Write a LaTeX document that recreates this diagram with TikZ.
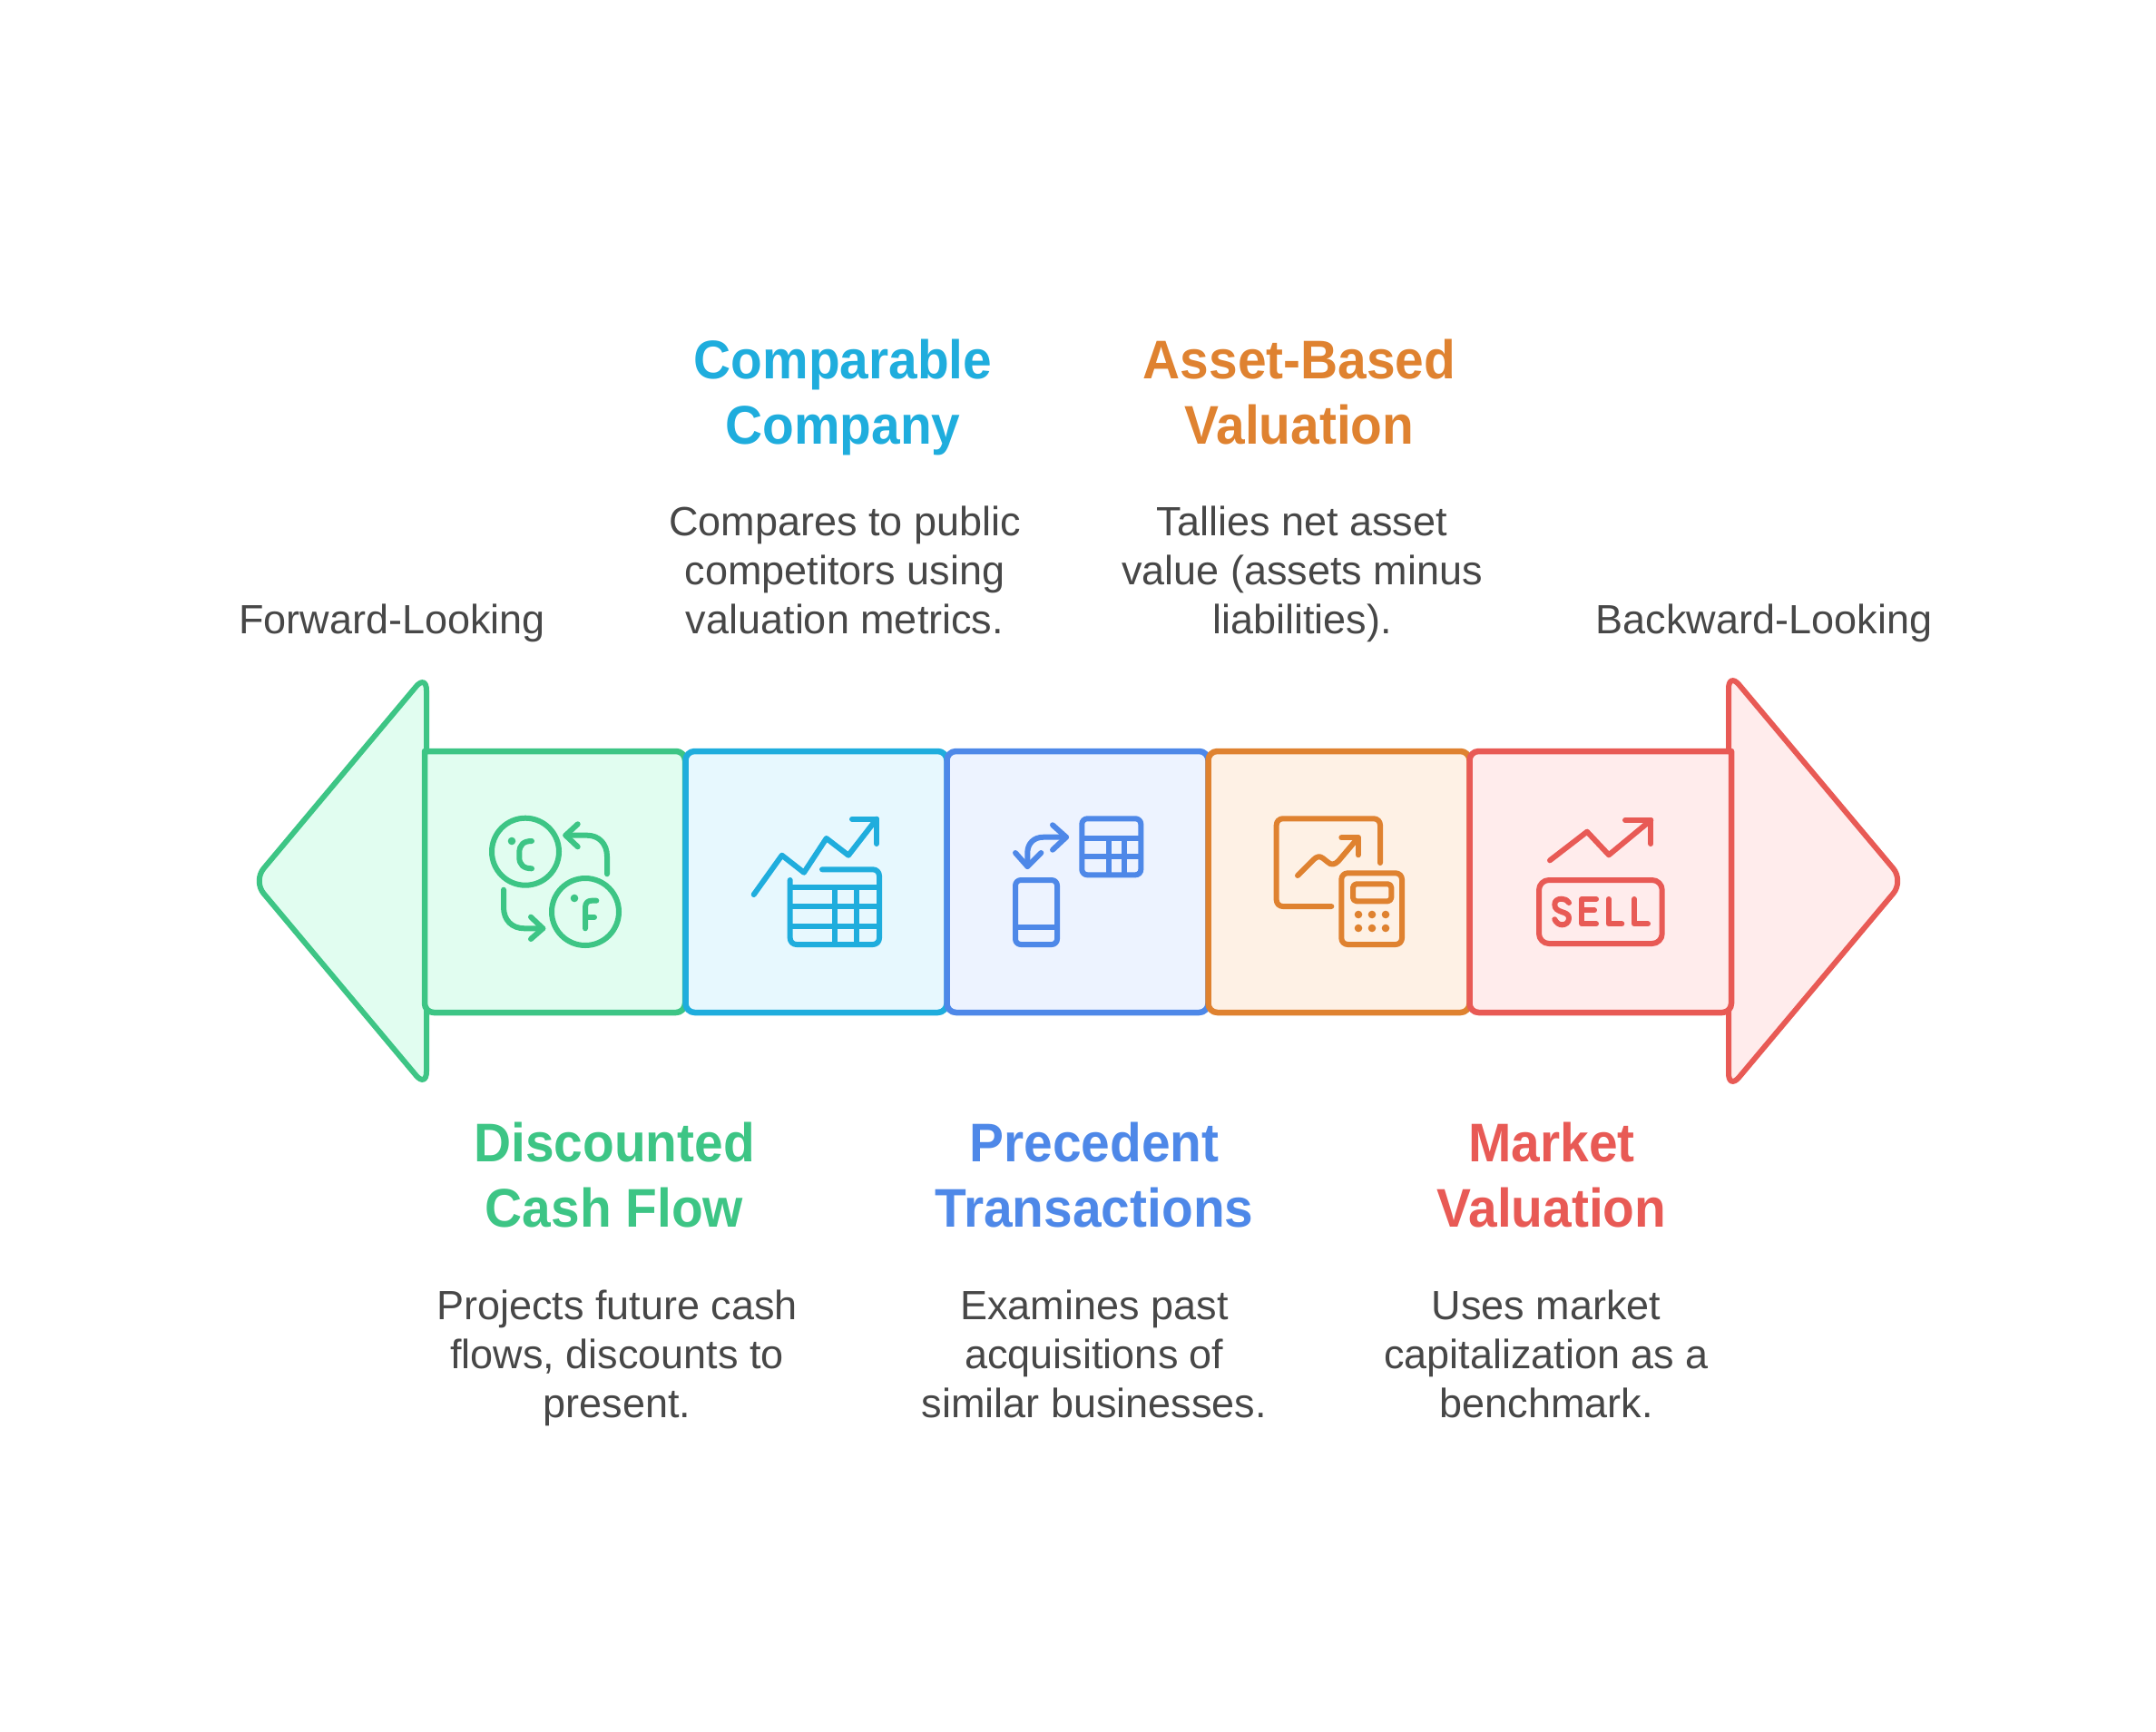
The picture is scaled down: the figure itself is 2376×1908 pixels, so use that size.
\documentclass[tikz,border=0pt]{standalone}
\usepackage{fontspec}
\setmainfont{Liberation Sans}
\newfontfamily\headfont[FakeStretch=0.948]{Liberation Sans}
\definecolor{gS}{HTML}{3DC585}\definecolor{gF}{HTML}{E1FDF0}
\definecolor{cS}{HTML}{1FADDD}\definecolor{cF}{HTML}{E7F8FE}
\definecolor{bS}{HTML}{4E88E8}\definecolor{bF}{HTML}{EDF3FF}
\definecolor{oS}{HTML}{DF8230}\definecolor{oF}{HTML}{FEF1E5}
\definecolor{rS}{HTML}{E85A55}\definecolor{rF}{HTML}{FFECEC}
\definecolor{txt}{HTML}{474747}
\tikzset{
  seg/.style={line width=6.5pt,line join=round},
  ic/.style={line width=6pt,line cap=round,line join=round},
  head/.style={inner sep=0pt,align=center,anchor=base,font=\fontsize{60}{72}\selectfont\headfont\bfseries},
  body/.style={inner sep=0pt,align=center,anchor=base,text=txt,font=\fontsize{45}{54}\selectfont},
}
\begin{document}
\begin{tikzpicture}[x=1pt,y=-1pt]
\useasboundingbox (0,0) rectangle (2376,1908);
\fill[white] (0,0) rectangle (2376,1908);
% arrow heads
\draw[seg,line width=6pt,draw=gS,fill=gF,rounded corners=18pt] (470,743) -- (279,971) -- (470,1199) -- cycle;
\draw[seg,line width=6pt,draw=rS,fill=rF,rounded corners=18pt] (1905,741) -- (2098,971) -- (1905,1201) -- cycle;
% segments
\draw[seg,draw=gS,fill=gF] (468,828) -- (745,828) [rounded corners=10pt] -- (755,828) -- (755,1116) -- (468,1116) [sharp corners] -- cycle;
\draw[seg,draw=cS,fill=cF,rounded corners=10pt] (755.5,828) rectangle (1043.5,1116);
\draw[seg,draw=bS,fill=bF,rounded corners=10pt] (1043.5,828) rectangle (1331.5,1116);
\draw[seg,draw=oS,fill=oF,rounded corners=10pt] (1331.5,828) rectangle (1619.5,1116);
\draw[seg,draw=rS,fill=rF] (1908,828) -- (1630,828) [rounded corners=10pt] -- (1619.5,828) -- (1619.5,1116) -- (1908,1116) [sharp corners] -- cycle;
% icon 1
\begin{scope}[ic,draw=gS]
\draw (579,938.7) circle (37);
\draw (645,1005) circle (37);
\fill[gS] (564,927) circle (4.3);
\fill[gS] (633,990) circle (4.3);
\draw (586,927) .. controls (577,927) and (572.3,931) .. (572.3,940) -- (572.3,945) .. controls (572.3,953) and (577,957.3) .. (586,957.3);
\draw (669,963.3) -- (669,944) .. controls (669,930) and (660,920.7) .. (647,920.7) -- (623.3,920.7);
\draw (636.7,908.3) -- (623.3,920.7) -- (636.7,933.3);
\draw (555,980.7) -- (555,1000) .. controls (555,1014) and (564,1023.3) .. (578,1023.3) -- (598.3,1023.3);
\draw (585,1010.7) -- (598.3,1023.3) -- (585,1035);
\draw (645,1023.3) -- (645,1000) .. controls (645,995) and (648,992.7) .. (652,992.7) -- (657.3,992.7);
\draw (645,1011) -- (655,1011);
\end{scope}
% icon 2
\begin{scope}[ic,draw=cS]
\draw (830.7,986) -- (861.7,942.7) -- (886,961.7) -- (910.7,924) -- (935,942.7) -- (966,902.7);
\draw (939,902.7) -- (966,902.7) -- (966,930);
\draw[rounded corners=7pt] (906,958.3) -- (969,958.3) -- (969,1041) -- (870.7,1041) -- (870.7,970);
\draw[line cap=butt] (870.7,977.7) -- (969,977.7) (870.7,999.3) -- (969,999.3) (870.7,1020.7) -- (969,1020.7);
\draw[line cap=butt] (920,977.7) -- (920,1041) (944.3,977.7) -- (944.3,1041);
\end{scope}
% icon 3
\begin{scope}[ic,draw=bS]
\draw[rounded corners=6pt] (1192.3,902.3) rectangle (1257.3,964.3);
\draw[line cap=butt] (1192.3,924) -- (1257.3,924) (1192.3,944) -- (1257.3,944);
\draw[line cap=butt] (1221.7,924) -- (1221.7,964.3) (1239,924) -- (1239,964.3);
\draw[rounded corners=6pt] (1119,970) rectangle (1165,1041);
\draw[line cap=butt] (1119,1022.3) -- (1165,1022.3);
\draw (1175,922.7) -- (1150,922.7) .. controls (1139,922.7) and (1132.3,930) .. (1132.3,940) -- (1132.3,955);
\draw (1160,909.3) -- (1175,922.7) -- (1160,936.7);
\draw (1119,940) -- (1132.3,955) -- (1147.3,940);
\end{scope}
% icon 4
\begin{scope}[ic,draw=oS]
\draw[rounded corners=7pt] (1521,951) -- (1521,902.3) -- (1406.7,902.3) -- (1406.7,999) -- (1467.3,999);
\draw (1430,965) -- (1447,948) .. controls (1451,944) and (1454,943) .. (1458,946) -- (1463,950) .. controls (1467,954) and (1471,953) .. (1475,949) -- (1496.7,923.3);
\draw (1478.3,923.3) -- (1496.7,923.3) -- (1496.7,942.3);
\draw[rounded corners=7pt] (1478.3,962.3) rectangle (1545,1041);
\draw[rounded corners=4pt] (1491,974.3) rectangle (1533.3,993.3);
\foreach \dx in {1497,1512,1527} \foreach \dy in {1008,1023} \fill[oS] (\dx,\dy) circle (4.3);
\end{scope}
% icon 5
\begin{scope}[ic,draw=rS]
\draw (1708,948.3) -- (1749,916.7) -- (1773,942.3) -- (1819.3,904);
\draw (1791,904) -- (1819.3,904) -- (1819.3,930);
\draw[rounded corners=11pt] (1696,970) rectangle (1831.7,1040);
\draw (1729,995) .. controls (1727,992) and (1724,990.7) .. (1721,990.7) .. controls (1716,990.7) and (1713.3,993) .. (1713.3,997) .. controls (1713.3,1002) and (1717,1003.5) .. (1721,1005) .. controls (1726,1006.5) and (1729,1008) .. (1729,1012) .. controls (1729,1017) and (1725,1019.3) .. (1721.5,1019.3) .. controls (1718,1019.3) and (1715,1017) .. (1713.3,1013.3);
\draw (1759,991) -- (1743.3,991) -- (1743.3,1018.3) -- (1759,1018.3) (1743.3,1003.3) -- (1757,1003.3);
\draw (1772.7,991) -- (1772.7,1018.3) -- (1787.3,1018.3);
\draw (1801,991) -- (1801,1018.3) -- (1816,1018.3);
\end{scope}
% texts
\node[body] (fwd) at (432,698) {Forward-Looking};
\node[body] (bwd) at (1944,698) {Backward-Looking};
\node[head,text=cS] (h2) at (929,489) {Comparable\\Company};
\node[body] (b2) at (931,698) {Compares to public\\competitors using\\valuation metrics.};
\node[head,text=oS] (h4) at (1432,489) {Asset-Based\\Valuation};
\node[body] (b4) at (1435,698) {Tallies net asset\\value (assets minus\\liabilities).};
\node[head,text=gS] (h1) at (677,1352.7) {Discounted\\Cash Flow};
\node[body] (b1) at (680,1562) {Projects future cash\\flows, discounts to\\present.};
\node[head,text=bS] (h3) at (1206,1352.7) {Precedent\\Transactions};
\node[body] (b3) at (1206,1562) {Examines past\\acquisitions of\\similar businesses.};
\node[head,text=rS] (h5) at (1710,1352.7) {Market\\Valuation};
\node[body] (b5) at (1704,1562) {Uses market\\capitalization as a\\benchmark.};
\end{tikzpicture}
\end{document}
